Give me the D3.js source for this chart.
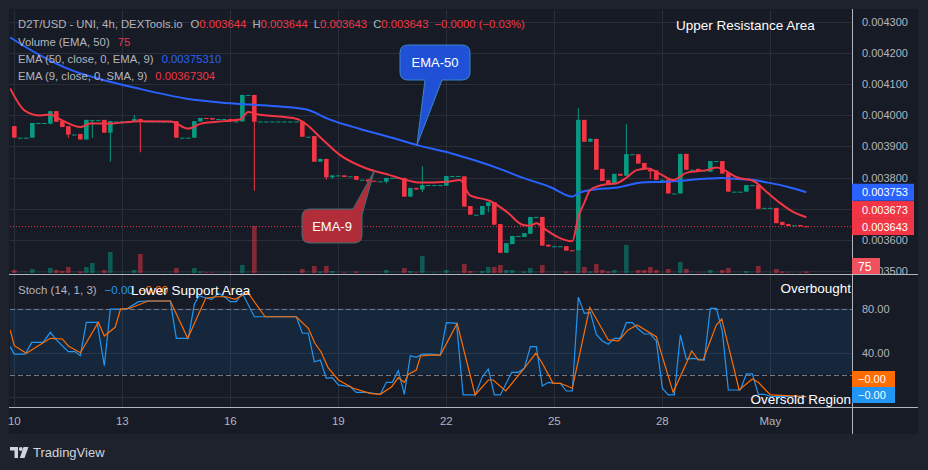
<!DOCTYPE html>
<html>
<head>
<meta charset="utf-8">
<script src="https://cdn.jsdelivr.net/npm/d3@7"></script>
<style>
  body { margin: 0; background: #1e222d; }
  svg { display: block; font-family: "Liberation Sans", Arial, sans-serif; }
</style>
</head>
<body>
<script>
// 4h candles, 10 Apr .. 2 May
var opens = [
  .003965,.003928,.003928,.003928,.003975,.003975,.003973,.004013,.003981,.003965,
  .003938,.003940,.003922,.003984,.003984,.003985,.003944,.003980,.003980,.003980,
  .003980,.003988,.003980,.003980,.003980,.003980,.003980,.003981,.003928,.003928,
  .003928,.003980,.003991,.003991,.003988,.003988,.003988,.003980,.003980,.004065,
  .004065,.003980,.003980,.003980,.003980,.003980,.003980,.003980,.003980,.003931,
  .003933,.003851,.003860,.003801,.003807,.003807,.003804,.003805,.003793,.003794,
  .003790,.003788,.003787,.003799,.003799,.003799,.003739,.003767,.003762,.003776,
  .003776,.003776,.003774,.003805,.003805,.003804,.003709,.003681,.003681,.003709,
  .003721,.003651,.003559,.003587,.003613,.003610,.003620,.003674,.003674,.003585,
  .003580,.003580,.003580,.003567,.003566,.003985,.003915,.003924,.003828,.003792,
  .003779,.003812,.003806,.003875,.003875,.003847,.003825,.003823,.003793,.003794,
  .003749,.003749,.003876,.003825,.003828,.003823,.003819,.003853,.003853,.003815,
  .003755,.003755,.003755,.003776,.003776,.003703,.003703,.003703,.003658,.003651,
  .003647,.003648,.003644
];
var closes = [
  .003928,.003928,.003928,.003975,.003975,.003975,.004013,.003979,.003962,.003938,
  .003938,.003922,.003985,.003984,.003984,.003944,.003981,.003980,.003980,.003980,
  .003988,.003980,.003980,.003980,.003980,.003980,.003980,.003928,.003928,.003928,
  .003981,.003991,.003988,.003986,.003988,.003988,.003980,.003980,.004065,.004065,
  .003979,.003980,.003980,.003980,.003980,.003980,.003980,.003980,.003931,.003931,
  .003851,.003860,.003801,.003807,.003807,.003802,.003804,.003793,.003793,.003787,
  .003788,.003788,.003799,.003799,.003799,.003739,.003767,.003762,.003776,.003776,
  .003776,.003776,.003805,.003805,.003805,.003707,.003681,.003681,.003709,.003721,
  .003649,.003559,.003590,.003613,.003613,.003622,.003674,.003674,.003582,.003579,
  .003580,.003580,.003566,.003566,.003985,.003915,.003924,.003825,.003789,.003779,
  .003812,.003806,.003875,.003875,.003845,.003828,.003820,.003793,.003793,.003749,
  .003749,.003876,.003825,.003825,.003821,.003823,.003853,.003853,.003813,.003755,
  .003755,.003755,.003776,.003776,.003700,.003703,.003703,.003654,.003648,.003645,
  .003647,.003644,.003643
];
// only the candles whose wick goes past the body
var wickHighs = [[20,.004001],[68,.003837],[94,.004023],[96,.003927],[102,.003972]];
var wickLows = [[6,.003970],[9,.003927],[13,.003927],[16,.003851],[21,.003881],[40,.003758],
  [52,.003793],[53,.003797],[62,.003781],[68,.003753],[79,.003689],[106,.003796]];
var volumes = [
  150,15,15,200,15,15,250,150,100,300, 15,75,300,500,15,150,1050,15,15,15,
  150,950,15,15,15,15,15,250,15,15, 250,75,35,35,15,25,25,15,400,15,
  2350,15,15,15,15,15,15,15,200,15, 350,75,350,100,15,35,15,75,15,15,
  15,15,150,15,15,250,100,35,850,15, 25,15,150,15,15,450,100,15,100,300,
  300,400,150,150,15,75,250,15,400,15, 15,15,75,15,1100,300,75,450,150,75,
  150,15,1400,15,150,150,300,150,15,200, 15,550,200,15,25,25,150,15,150,250,
  15,15,100,15,350,15,15,200,75,25, 15,25,75
];

var ema50 = [[-0.7,.004249],[4.3,.004192],[9.3,.004146],[14.8,.004113],[20.3,.004087],[28.8,.004053],
  [34.3,.004041],[39.3,.004034],[44.3,.004028],[48.7,.004018],[52.6,.003986],[57.6,.003956],
  [63.1,.003927],[67.1,.003904],[72.6,.003879],[77.1,.003853],[80.9,.003828],[84.8,.003799],
  [89.3,.003770],[93,.003739],[94,.003750],[96,.003760],[101,.003770],[103.7,.003782],
  [105.3,.003785],[108,.003786],[110,.003788],[113,.003793],[115,.003796],[118,.003799],
  [120,.003796],[123,.003793],[125,.003786],[129,.003770],[132,.0037531]];
var ema9 = [[-0.7,.004086],[1.8,.004014],[4.3,.003999],[5.9,.004002],[7.8,.003985],[11,.003962],
  [12.6,.003973],[15.6,.003973],[21,.003981],[26.1,.003980],[29,.003957],[31.1,.003973],
  [35,.003981],[37.6,.003986],[39,.004010],[40.3,.004004],[47.1,.003988],[48.7,.003970],
  [51.1,.003927],[54.3,.003872],[58.6,.003830],[62.6,.003808],[64.8,.003795],[67.6,.003784],
  [72.1,.003787],[74.3,.003792],[75.9,.003744],[79.3,.003725],[82.1,.003690],[84.8,.003648],
  [85.9,.003646],[87.1,.003654],[88.2,.003638],[93,.003596],[94,.003674],[95,.003720],
  [96,.003760],[98.2,.003777],[100.4,.003782],[102.1,.003801],[103.7,.003824],[105.6,.003829],
  [107.6,.003812],[109.8,.003792],[112.1,.003816],[115.4,.003824],[117.1,.003832],[118.2,.003825],
  [120.4,.003801],[123.2,.003789],[125.4,.003754],[127.6,.003719],[129.8,.003690],[132,.00367304]];

var stochK = [[-0.7,45.3],[0,38.6],[1.8,38.6],[2.9,49.2],[4.8,49.2],[6,58.3],[7,51.4],[9,40.8],
  [10.1,40.8],[11,37.1],[12,67.4],[13.8,67.4],[15,28],[16,79.5],[18.7,79.5],[20.7,86.2],[22,86.8],
  [26,86.8],[27,52.9],[29,52.9],[30,83.8],[30.8,91.6],[31.8,89.8],[32.9,88.4],[34,93.8],[35,90.7],
  [36,86.2],[37,86.2],[38,94],[40,72.5],[47,72.5],[48,57.5],[49,57.5],[50,31.6],[51,33.2],
  [52,16.5],[53,17.1],[54,10.5],[56,8.9],[57,3.8],[58.7,3.8],[61,2],[62,12.9],[63,12.9],
  [64,23.5],[65,2],[66,37.1],[67,35.6],[68,38.6],[69.3,38.6],[71,37.7],[72,67.1],[73.7,66.5],
  [74.8,1.4],[76.8,1.4],[78,18],[79,25],[80,1.4],[81,1.4],[82.9,22],[84,22],[85,25.6],[86,45.3],
  [87,45.3],[88,9.5],[89,12.9],[90,12],[91,12],[92,5],[93,5],[94,90.2],[95,75.6],[96,76.5],
  [97,56.5],[98,50.5],[99,47.5],[100,52.9],[101,52.9],[102,67.1],[103,67.1],[104,61.4],[105,56.8],
  [106,56.8],[107,50.5],[108,7.5],[109,1.4],[110,1.4],[111,55.9],[112,34.1],[113,34.7],[114,34.1],
  [115,33.2],[116,80.2],[117,80.2],[118,58.9],[119,5.9],[121,5.9],[122,20.5],[123,20.5],[124,2],
  [125,2],[126,0],[132,-0.001]];
var stochD = [[-0.7,60.5],[0,46.2],[2,39.3],[6,52.9],[8,52.3],[9,45.9],[11,39.8],[14,67.4],[15,55],
  [16.8,62.9],[17.7,79.5],[19.3,80.2],[22.3,86.8],[26,86.8],[28.9,52.9],[31.9,89.3],[33.7,90.7],
  [35.3,90.7],[36.8,88.4],[38.9,94.7],[39.8,87.7],[41.8,72.5],[47,72.5],[49,62],[50.1,48.4],
  [51.1,40.7],[52.3,26.2],[54,15],[56.5,7.5],[59.3,2.9],[61,2],[62.9,8.9],[64,17.1],[65,12.9],
  [65.7,20.2],[67,24.1],[67.7,36.8],[69.3,37.7],[71,37.7],[73.8,66.5],[76.8,1.4],[79,15],[79.8,15],
  [81.9,5],[84.9,25],[86.9,39.3],[87.9,31.1],[89.8,12],[91,12],[93,7.5],[95.9,81.1],[99,51.4],
  [100.7,50.5],[102.3,60.5],[103.8,65],[107,54.4],[109.8,3.8],[112,30.2],[112.9,41.4],[114,33.2],
  [114.8,33.2],[117,65],[117.9,70.5],[119.8,28.6],[120.8,5.9],[123,15.9],[124,12.9],[126,1.4],
  [132,-0.001]];

var tickIdx = [0, 18, 36, 54, 72, 90, 108, 126];
var tickLabels = ["10", "13", "16", "19", "22", "25", "28", "May"];
var priceTicks = [0.0035, 0.0036, 0.0037, 0.0038, 0.0039, 0.0040, 0.0041, 0.0042, 0.0043];
var stochTicks = [40, 80];
var stochGrid = [0, 40, 80];

var up = "#089981", down = "#f23645", blue = "#2962ff";
var kColor = "#2196f3", dColor = "#ff6d00";
var textGray = "#b2b5be", gridCol = "#2a2e39";

var paneL = 10, paneR = 852, mainTop = 10, mainBot = 274, stTop = 275, stBot = 407, axisBot = 434;

var x = d3.scaleLinear().domain([0, 132]).range([14.33, 806.33]);
var y = d3.scaleLinear().domain([0.0035, 0.0043]).range([271.2, 21.6]);
var yVol = d3.scaleLinear().domain([0, d3.max(volumes)]).range([273, 226]);
var yS = d3.scaleLinear().domain([0, 100]).range([396.5, 286.5]);
var fmtP = d3.format(".6f");
function signed(v, n) { return (v < 0 ? "\u2212" : "") + Math.abs(v).toFixed(n); }

var hiMap = new Map(wickHighs), loMap = new Map(wickLows);
var candles = opens.map(function(o, i) {
  var c = closes[i];
  return {
    i: i, o: o, c: c,
    h: Math.max(o, c, hiMap.get(i) || 0),
    l: Math.min(o, c, loMap.get(i) || 1),
    v: volumes[i], up: c >= o
  };
});
var last = candles[candles.length - 1], prev = candles[candles.length - 2];

var svg = d3.select("body").append("svg").attr("width", 928).attr("height", 470);
svg.append("rect").attr("width", 928).attr("height", 470).attr("fill", "#1e222d");
svg.append("rect").attr("x", 9).attr("y", 9).attr("width", 909).attr("height", axisBot - 9)
  .attr("fill", "#171b26");

var defs = svg.append("defs");
defs.append("clipPath").attr("id", "clipMain").append("rect")
  .attr("x", paneL).attr("y", mainTop).attr("width", paneR - paneL).attr("height", mainBot - mainTop);
defs.append("clipPath").attr("id", "clipSt").append("rect")
  .attr("x", paneL).attr("y", stTop).attr("width", paneR - paneL).attr("height", stBot - stTop);

// grid
var grid = svg.append("g").attr("stroke", gridCol).attr("stroke-width", 1);
grid.selectAll(".hg").data(priceTicks).enter().append("line")
  .attr("x1", paneL).attr("x2", paneR)
  .attr("y1", function(d) { return Math.round(y(d)) + 0.5; })
  .attr("y2", function(d) { return Math.round(y(d)) + 0.5; });
grid.selectAll(".vg").data(tickIdx).enter().append("line")
  .attr("x1", function(d) { return Math.round(x(d)) + 0.5; })
  .attr("x2", function(d) { return Math.round(x(d)) + 0.5; })
  .attr("y1", mainTop).attr("y2", mainBot);
grid.selectAll(".vs").data(tickIdx).enter().append("line")
  .attr("x1", function(d) { return Math.round(x(d)) + 0.5; })
  .attr("x2", function(d) { return Math.round(x(d)) + 0.5; })
  .attr("y1", stTop).attr("y2", stBot);
grid.selectAll(".sg").data(stochGrid).enter().append("line")
  .attr("x1", paneL).attr("x2", paneR)
  .attr("y1", function(d) { return Math.round(yS(d)) + 0.5; })
  .attr("y2", function(d) { return Math.round(yS(d)) + 0.5; });

// main pane
var main = svg.append("g").attr("clip-path", "url(#clipMain)");

main.selectAll(".vol").data(candles).enter().append("rect")
  .attr("x", function(d) { return x(d.i) - 2.3; })
  .attr("width", 4.6)
  .attr("y", function(d) { return yVol(d.v); })
  .attr("height", function(d) { return yVol(0) - yVol(d.v); })
  .attr("fill", function(d) { return d.up ? up : down; })
  .attr("fill-opacity", 0.5);

var cg = main.selectAll(".candle").data(candles).enter().append("g");
cg.append("line")
  .attr("x1", function(d) { return x(d.i); })
  .attr("x2", function(d) { return x(d.i); })
  .attr("y1", function(d) { return y(d.h); })
  .attr("y2", function(d) { return y(d.l); })
  .attr("stroke", function(d) { return d.up ? up : down; })
  .attr("stroke-width", 1);
cg.append("rect")
  .attr("x", function(d) { return x(d.i) - 2.3; })
  .attr("width", 4.6)
  .attr("y", function(d) { return y(Math.max(d.o, d.c)); })
  .attr("height", function(d) { return Math.max(1, Math.abs(y(d.o) - y(d.c))); })
  .attr("fill", function(d) { return d.up ? up : down; });

// last price line
main.append("line")
  .attr("x1", paneL).attr("x2", paneR)
  .attr("y1", y(last.c)).attr("y2", y(last.c))
  .attr("stroke", down).attr("stroke-dasharray", "1,2");

var line = d3.line()
  .x(function(d) { return x(d[0]); })
  .y(function(d) { return y(d[1]); })
  .curve(d3.curveMonotoneX);
main.append("path").attr("d", line(ema50)).attr("fill", "none")
  .attr("stroke", blue).attr("stroke-width", 2);
main.append("path").attr("d", line(ema9)).attr("fill", "none")
  .attr("stroke", down).attr("stroke-width", 2);

// callouts
var tip50 = [x(67.1), y(0.003904)], tip9 = [x(60), y(0.003822)];
main.append("path")
  .attr("d", "M408,45H462Q470,45 470,53V72Q470,80 462,80H442L" + tip50 + "L425,80H408Q400,80 400,72V53Q400,45 408,45Z")
  .attr("fill", "#1f50d6").attr("stroke", "#3a86c8").attr("stroke-width", 1);
main.append("text").attr("x", 435).attr("y", 67).attr("text-anchor", "middle")
  .attr("fill", "#fff").attr("font-size", "13px").text("EMA-50");
main.append("path")
  .attr("d", "M310,209H353L" + tip9 + "L362,215V235Q362,243 354,243H310Q302,243 302,235V217Q302,209 310,209Z")
  .attr("fill", "#b22d3a").attr("stroke", "#3a7078").attr("stroke-width", 1);
main.append("text").attr("x", 332).attr("y", 231).attr("text-anchor", "middle")
  .attr("fill", "#fff").attr("font-size", "13px").text("EMA-9");

main.append("text").attr("x", 676).attr("y", 30).attr("fill", "#fff")
  .attr("font-size", "13.5px").text("Upper Resistance Area");

// stoch pane
var st = svg.append("g").attr("clip-path", "url(#clipSt)");
st.append("rect").attr("x", paneL).attr("width", paneR - paneL)
  .attr("y", yS(80)).attr("height", yS(20) - yS(80))
  .attr("fill", "rgba(33,150,243,0.1)");
st.selectAll(".band").data([80, 20]).enter().append("line")
  .attr("x1", paneL).attr("x2", paneR)
  .attr("y1", function(d) { return Math.round(yS(d)) + 0.5; })
  .attr("y2", function(d) { return Math.round(yS(d)) + 0.5; })
  .attr("stroke", "#787b86").attr("stroke-dasharray", "5,3");
var sline = d3.line()
  .x(function(d) { return x(d[0]); })
  .y(function(d) { return yS(d[1]); });
st.append("path").attr("d", sline(stochK)).attr("fill", "none")
  .attr("stroke", kColor).attr("stroke-width", 1.2);
st.append("path").attr("d", sline(stochD)).attr("fill", "none")
  .attr("stroke", dColor).attr("stroke-width", 1.2);

// separators
var sep = svg.append("g").attr("stroke", "#b2b5be").attr("stroke-width", 1);
sep.append("line").attr("x1", 852.5).attr("x2", 852.5).attr("y1", 9).attr("y2", axisBot);
sep.append("line").attr("x1", 9).attr("x2", 918).attr("y1", 274.5).attr("y2", 274.5);
sep.append("line").attr("x1", 9).attr("x2", 918).attr("y1", 407.5).attr("y2", 407.5);

// price axis
svg.append("g").selectAll("text").data(priceTicks).enter().append("text")
  .attr("x", 862).attr("y", function(d) { return y(d) + 4; })
  .attr("fill", textGray).attr("font-size", "11px").text(fmtP);

var plabels = [
  { v: ema50[ema50.length - 1][1], c: blue },
  { v: ema9[ema9.length - 1][1], c: down },
  { v: last.c, c: down }
];
plabels.forEach(function(d) { d.cy = y(d.v); });
plabels.sort(function(a, b) { return b.cy - a.cy; });
for (var i = 1; i < plabels.length; i++) {
  plabels[i].cy = Math.min(plabels[i].cy, plabels[i - 1].cy - 17);
}
var pl = svg.append("g").selectAll("g").data(plabels).enter().append("g");
pl.append("rect").attr("x", 852).attr("width", 62).attr("height", 17)
  .attr("y", function(d) { return d.cy - 8.5; }).attr("fill", function(d) { return d.c; });
pl.append("text").attr("x", 862).attr("y", function(d) { return d.cy + 4; })
  .attr("fill", "#fff").attr("font-size", "11px").text(function(d) { return fmtP(d.v); });

var volY = Math.min(yVol(last.v), mainBot - 8);
svg.append("rect").attr("x", 852).attr("y", volY - 8).attr("width", 28).attr("height", 16)
  .attr("fill", "#f0515f");
svg.append("text").attr("x", 858).attr("y", volY + 4.5).attr("fill", "#fff")
  .attr("font-size", "12px").text(last.v);

// stoch axis
svg.append("g").selectAll("text").data(stochTicks).enter().append("text")
  .attr("x", 862).attr("y", function(d) { return yS(d) + 4; })
  .attr("fill", textGray).attr("font-size", "11px").text(d3.format(".2f"));
var kLast = stochK[stochK.length - 1][1], dLast = stochD[stochD.length - 1][1];
var kY = Math.min(yS(kLast), stBot - 12), dY = Math.min(yS(dLast), kY - 16);
[[kY, kColor, kLast], [dY, dColor, dLast]].forEach(function(s) {
  svg.append("rect").attr("x", 852).attr("y", s[0] - 8).attr("width", 43).attr("height", 16)
    .attr("fill", s[1]);
  svg.append("text").attr("x", 858).attr("y", s[0] + 4).attr("fill", "#fff")
    .attr("font-size", "11px").text(signed(s[2], 2));
});

// time axis
svg.append("g").selectAll("text").data(tickIdx).enter().append("text")
  .attr("x", function(d) { return x(d); }).attr("y", 425)
  .attr("text-anchor", "middle").attr("fill", textGray).attr("font-size", "11.5px")
  .text(function(d, i) { return tickLabels[i]; });

// legends
function legendLine(yy, parts) {
  var t = svg.append("text").attr("x", 18).attr("y", yy).attr("font-size", "11.3px");
  parts.forEach(function(p) {
    t.append("tspan").attr("dx", p[2] || 0).attr("fill", p[1]).text(p[0]);
  });
}
var chg = last.c - prev.c;
legendLine(28, [
  ["D2T/USD - UNI, 4h, DEXTools.io", textGray],
  ["O", textGray, 8], [fmtP(last.o), down],
  ["H", textGray, 6], [fmtP(last.h), down],
  ["L", textGray, 6], [fmtP(last.l), down],
  ["C", textGray, 6], [fmtP(last.c), down],
  [signed(chg, 4) + " (" + signed(chg / prev.c * 100, 2) + "%)", down, 6]
]);
legendLine(46, [["Volume (EMA, 50)", textGray], [String(last.v), down, 8]]);
legendLine(63, [["EMA (50, close, 0, EMA, 9)", textGray], [d3.format(".8f")(ema50[ema50.length - 1][1]), blue, 8]]);
legendLine(80, [["EMA (9, close, 0, SMA, 9)", textGray], [d3.format(".8f")(ema9[ema9.length - 1][1]), down, 8]]);

var stl = svg.append("text").attr("x", 18).attr("y", 294).attr("font-size", "11.5px");
stl.append("tspan").attr("fill", textGray).text("Stoch (14, 1, 3)");
stl.append("tspan").attr("dx", 8).attr("fill", kColor).text(signed(kLast, 2));
stl.append("tspan").attr("dx", 5).attr("fill", dColor).text(signed(dLast, 2));

svg.append("text").attr("x", 131).attr("y", 295).attr("fill", "#fff")
  .attr("font-size", "13.5px").text("Lower Support Area");
svg.append("text").attr("x", 851).attr("y", 293).attr("text-anchor", "end").attr("fill", "#fff")
  .attr("font-size", "13.5px").text("Overbought");
svg.append("text").attr("x", 851).attr("y", 404).attr("text-anchor", "end").attr("fill", "#fff")
  .attr("font-size", "13.5px").text("Oversold Region");

// footer logo
var logo = svg.append("g").attr("fill", "#d1d4dc");
logo.append("path").attr("d", "M10,447H18V458H14.5V450.5H10Z");
logo.append("circle").attr("cx", 20.8).attr("cy", 449).attr("r", 1.9);
logo.append("path").attr("d", "M23.5,447H28.5L24.5,458H19.8Z");
svg.append("text").attr("x", 33).attr("y", 457).attr("fill", "#d1d4dc")
  .attr("font-size", "13px").text("TradingView");
</script>
</body>
</html>
